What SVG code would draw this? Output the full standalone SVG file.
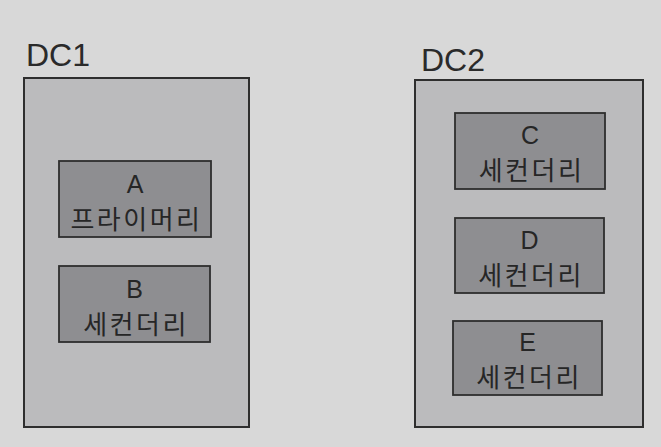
<svg xmlns="http://www.w3.org/2000/svg" width="661" height="447" viewBox="0 0 661 447">
<style>
.bg{fill:#d8d8d8}
.dc{fill:#bbbbbd;stroke:#2e2e2e;stroke-width:2}
.nd{fill:#8e8e91;stroke:#2e2e2e;stroke-width:1.8}
.lbl{font-family:"Liberation Sans","Noto Sans CJK KR",sans-serif;font-size:32px;fill:#2a2a2a}
.t{font-family:"Liberation Sans","Noto Sans CJK KR",sans-serif;font-size:25px;fill:#262626;text-anchor:middle}
.k{font-family:"Noto Sans CJK KR",sans-serif;font-size:26px;fill:#262626;text-anchor:middle;letter-spacing:2.5px}
</style>
<rect class="bg" x="0" y="0" width="661" height="447"/>
<g id="DC1">
<text class="lbl" x="26" y="66">DC1</text>
<rect class="dc" x="24" y="78" width="225" height="349"/>
</g>
<g id="DC2">
<text class="lbl" x="421" y="71">DC2</text>
<rect class="dc" x="415" y="80" width="228" height="347"/>
</g>
<g id="A">
<rect class="nd" x="59" y="161" width="152" height="76"/>
<text class="t" x="135" y="193">A</text>
<text class="k" x="136.5" y="229">프라이머리</text>
</g>
<g id="B">
<rect class="nd" x="59" y="266" width="151" height="76"/>
<text class="t" x="134.5" y="298">B</text>
<text class="k" x="136" y="334">세컨더리</text>
</g>
<g id="C">
<rect class="nd" x="455" y="113" width="150" height="76"/>
<text class="t" x="530" y="144">C</text>
<text class="k" x="531.5" y="180">세컨더리</text>
</g>
<g id="D">
<rect class="nd" x="455" y="218" width="149" height="75"/>
<text class="t" x="529.5" y="249">D</text>
<text class="k" x="531" y="285">세컨더리</text>
</g>
<g id="E">
<rect class="nd" x="453" y="321" width="149" height="74"/>
<text class="t" x="527.5" y="351">E</text>
<text class="k" x="529" y="387">세컨더리</text>
</g>
<g id="connectors"></g>
</svg>
